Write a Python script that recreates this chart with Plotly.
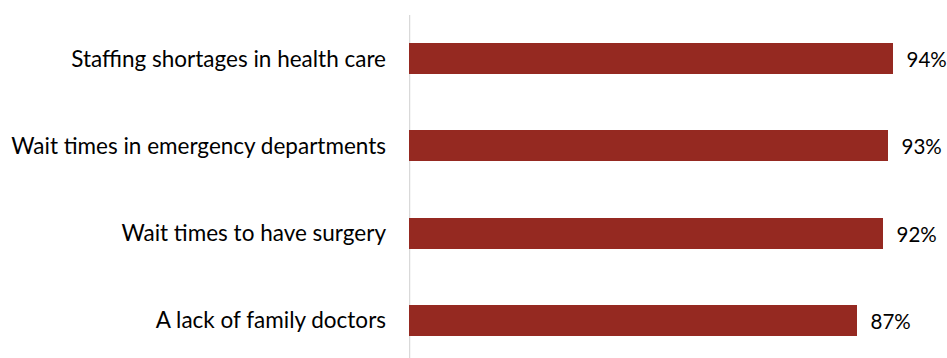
import plotly.graph_objects as go

categories = [
    "Staffing shortages in health care",
    "Wait times in emergency departments",
    "Wait times to have surgery",
    "A lack of family doctors",
]
values = [94, 93, 92, 87]

BAR_COLOR = "#952921"
FONT = "Lato"

fig = go.Figure(
    go.Bar(
        x=values,
        y=categories,
        orientation="h",
        marker=dict(color=BAR_COLOR, line=dict(width=0)),
        width=0.355,
        text=[f"{v}%" for v in values],
        texttemplate="  %{text}",
        textposition="outside",
        textfont=dict(family=FONT, size=20.5, color="#000000"),
        cliponaxis=False,
    )
)

fig.update_layout(
    width=947,
    height=358,
    margin=dict(l=409, r=0, t=15, b=0),
    paper_bgcolor="white",
    plot_bgcolor="white",
    showlegend=False,
    font=dict(family=FONT, size=22.5, color="#000000"),
    bargap=0,
)

fig.update_xaxes(
    range=[0, 104.5],
    showgrid=False,
    zeroline=False,
    showticklabels=False,
    showline=False,
)
fig.update_yaxes(
    categoryorder="array",
    categoryarray=categories,
    range=[3.43, -0.5],
    showgrid=False,
    zeroline=False,
    showline=False,
    ticks="",
    ticklabelstandoff=22,
    tickfont=dict(family=FONT, size=22.5, color="#000000"),
)

# vertical baseline at zero
fig.add_shape(
    type="line",
    xref="x",
    yref="paper",
    x0=0,
    x1=0,
    y0=0,
    y1=1,
    line=dict(color="#d9d9d9", width=2.5),
    layer="below",
)

fig.write_html("out.html")
